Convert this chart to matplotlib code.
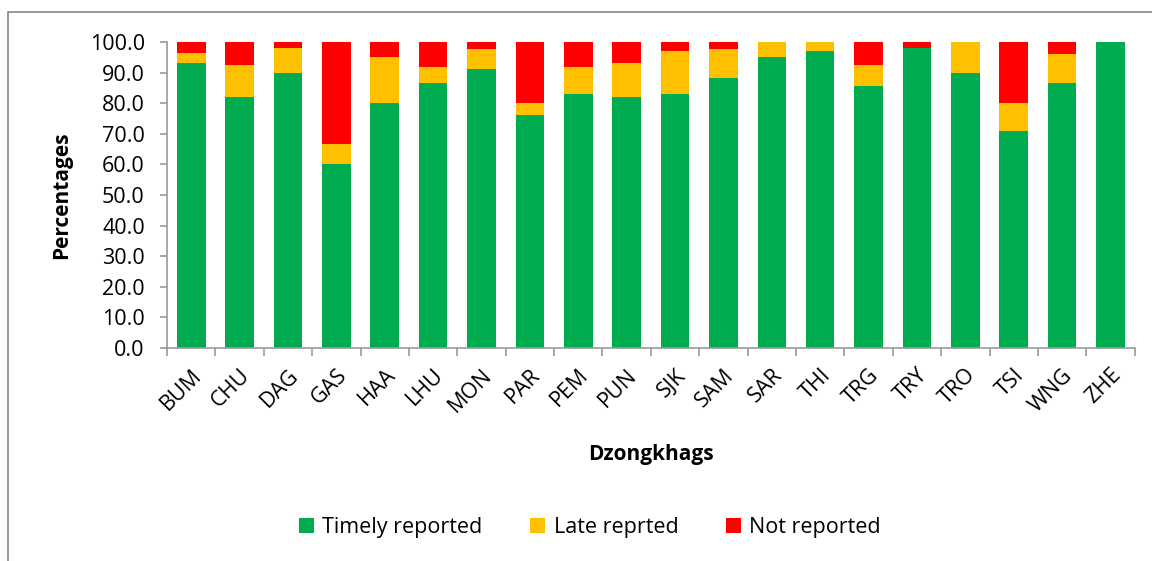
import numpy as np
import matplotlib
matplotlib.use("Agg")
import matplotlib.pyplot as plt
from matplotlib.patches import Rectangle

# Reporting status by dzongkhag (percent of expected reports)
dzongkhags = ["BUM", "CHU", "DAG", "GAS", "HAA", "LHU", "MON", "PAR", "PEM", "PUN",
              "SJK", "SAM", "SAR", "THI", "TRG", "TRY", "TRO", "TSI", "WNG", "ZHE"]
timely = [93.1, 82.0, 90.0, 60.0, 80.0, 86.7, 91.3, 76.0, 83.0, 82.0,
          83.0, 88.1, 95.2, 97.1, 85.7, 97.9, 90.0, 71.0, 86.7, 100.0]
late = [3.4, 10.6, 8.0, 6.7, 15.0, 5.3, 6.5, 4.0, 9.0, 11.0,
        14.0, 9.5, 4.8, 2.9, 6.7, 0.3, 10.0, 9.0, 9.3, 0.0]
not_reported = [3.5, 7.4, 2.0, 33.3, 5.0, 8.0, 2.2, 20.0, 8.0, 7.0,
                3.0, 2.4, 0.0, 0.0, 7.6, 1.8, 0.0, 20.0, 4.0, 0.0]

plt.rcParams["font.family"] = ["Open Sans", "DejaVu Sans"]

fig = plt.figure(figsize=(11.52, 5.61), dpi=100)
ax = fig.add_axes([0.145, 0.3797, 0.84, 0.5453])

x = np.arange(len(dzongkhags))
w = 0.59
green, yellow, red = "#00AC4F", "#FFC000", "#FF0000"
t = np.array(timely)
l = np.array(late)
ax.bar(x, t, w, color=green, label="Timely reported")
ax.bar(x, l, w, bottom=t, color=yellow, label="Late reprted")
ax.bar(x, not_reported, w, bottom=t + l, color=red, label="Not reported")

ax.set_xlim(-0.5, len(dzongkhags) - 0.5)
ax.set_ylim(0, 100)
ax.set_yticks(np.arange(0, 101, 10))
ax.set_yticklabels([f"{v:.1f}" for v in np.arange(0, 101, 10)], fontsize=15.5)

ax.set_xticks(x)
ax.set_xticklabels(dzongkhags, rotation=45, ha="right", rotation_mode="anchor", fontsize=15.5)
ax.tick_params(axis="x", which="major", length=0, pad=12)
ax.set_xticks(np.arange(-0.5, len(dzongkhags)), minor=True)
ax.tick_params(axis="x", which="minor", length=6, color="#999999", width=1.2)
ax.tick_params(axis="y", length=5, color="#999999", width=1.2, pad=11)

for s in ["top", "right"]:
    ax.spines[s].set_visible(False)
for s in ["left", "bottom"]:
    ax.spines[s].set_color("#999999")
    ax.spines[s].set_linewidth(1.2)

ax.set_ylabel("Percentages", fontsize=15, fontweight="bold", labelpad=13)
ax.set_xlabel("Dzongkhags", fontsize=15, fontweight="bold", labelpad=20)

ax.legend(loc="center", bbox_to_anchor=(0.512, 0.06), bbox_transform=fig.transFigure,
          ncol=3, frameon=False, fontsize=15.5, handlelength=0.7, handleheight=0.7,
          columnspacing=2.2, handletextpad=0.4)

# chart area border (cropped on right and bottom)
fig.patches.append(Rectangle((8 / 1152, -0.1), 1.2, 1 - 12 / 561 + 0.1, transform=fig.transFigure,
                             fill=False, edgecolor="#888888", linewidth=1.2))

fig.savefig("out.png", dpi=100)
